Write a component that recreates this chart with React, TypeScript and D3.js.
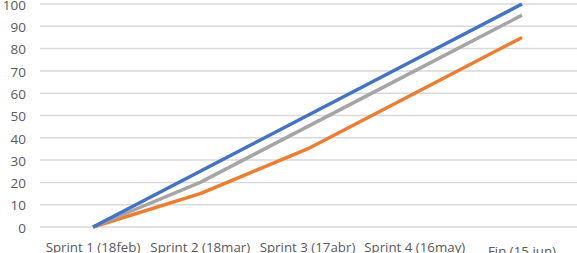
import React from "react";
import * as d3 from "d3";

const categories = ["Sprint 1 (18feb)", "Sprint 2 (18mar)", "Sprint 3 (17abr)", "Sprint 4 (16may)", "Fin (15 jun)"];
const seriesBlue = [0, 25, 50, 75, 100];
const seriesOrange = [0, 15, 35, 60, 85];
const seriesGray = [0, 20, 45, 70, 95];
const yTicks = [0, 10, 20, 30, 40, 50, 60, 70, 80, 90, 100];

const W = 577;
const H = 253;

export default function App() {
  const x = d3.scalePoint<string>().domain(categories).range([93, 522]);
  const y = d3.scaleLinear().domain([0, 100]).range([227, 4]);
  const line = d3
    .line<number>()
    .x((_, i) => x(categories[i]) as number)
    .y((d) => y(d));
  const series = [
    { values: seriesOrange, color: "#ED7D31" },
    { values: seriesGray, color: "#A5A5A5" },
    { values: seriesBlue, color: "#4472C4" },
  ];
  const font = "'Open Sans', 'Noto Sans', sans-serif";
  return (
    <svg
      width={W}
      height={H}
      style={{ position: "fixed", left: 0, top: 0, background: "#fff" }}
    >
      <rect width={W} height={H} fill="#fff" />
      {yTicks.map((t) => (
        <g key={t}>
          <line x1={40} x2={577} y1={y(t)} y2={y(t)} stroke="#D9D9D9" strokeWidth={1.5} />
          <text
            x={26}
            y={y(t) + 1}
            dy="0.35em"
            textAnchor="end"
            fontFamily={font}
            fontSize={13.5}
            fill="#595959"
          >
            {t}
          </text>
        </g>
      ))}
      {series.map((s, i) => (
        <path
          key={i}
          d={line(s.values) || ""}
          fill="none"
          stroke={s.color}
          strokeWidth={3.5}
          strokeLinejoin="round"
        />
      ))}
      {categories.map((c, i) => (
        <text
          key={c}
          x={x(c) as number}
          y={i === 4 ? 256 : 251.5}
          textAnchor="middle"
          fontFamily={font}
          fontSize={13.3}
          fill="#595959"
        >
          {c}
        </text>
      ))}
    </svg>
  );
}
